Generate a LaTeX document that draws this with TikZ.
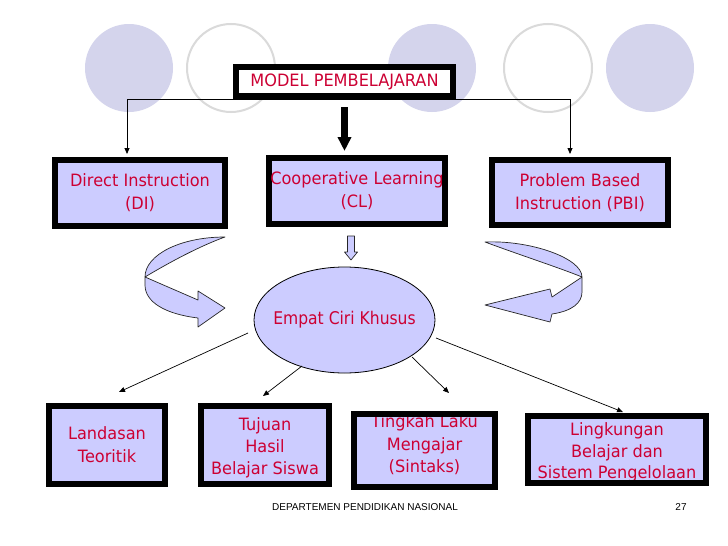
\documentclass[tikz,border=0pt]{standalone}
\usepackage{fontspec}
\setmainfont{DejaVu Sans}[FakeStretch=0.95]
\newfontfamily\narrowf{DejaVu Sans}[FakeStretch=0.89]
\newfontfamily\arialf{Liberation Sans}
\usetikzlibrary{arrows.meta,shapes.geometric}
\definecolor{lav}{RGB}{204,204,255}
\definecolor{txtred}{RGB}{204,0,51}
\definecolor{bgc}{RGB}{212,212,236}
\definecolor{bgo}{RGB}{218,218,218}
\begin{document}
\begin{tikzpicture}[x=1pt,y=-1pt,
  box/.style={draw=black,line width=6pt,fill=lav,text=txtred,align=center,inner sep=0pt,font=\fontsize{17}{23}\selectfont},
  boxfill/.style={box,draw=none,outer sep=0pt},
  boxtext/.style={text=txtred,align=center,inner sep=0pt,font=\fontsize{17}{22}\selectfont},
  boxedge/.style={draw=black,line width=6pt},
  bgfill/.style={fill=bgc,draw=none},
  bgring/.style={draw=bgo,line width=2pt,fill=white},
  conn/.style={draw=black,line width=0.8pt,-{Triangle[length=6pt,width=5pt]}},
  ray/.style={draw=black,line width=0.7pt,-{Triangle[length=6pt,width=5pt]}},
  blockarrow/.style={fill=lav,draw=black!85,line width=0.7pt,line join=round}]
\useasboundingbox (0,0) rectangle (728,546);
\fill[white] (0,0) rectangle (728,546);
% background circles
\fill[bgfill] (129,68) circle (44);
\draw[bgring] (231,68) circle (44);
\fill[bgfill] (432,68) circle (44);
\draw[bgring] (548,68) circle (44);
\fill[bgfill] (650,68) circle (44);

% top box
\node[box,fill=white,minimum width=217,minimum height=29] (top) at (344.5,81.5) {MODEL PEMBELAJARAN};
% three models
\node[box,minimum width=170,minimum height=66] (di) at (140,193) {Direct Instruction\\(DI)};
\node[box,minimum width=176,minimum height=66] (cl) at (357,191) {Cooperative Learning\\(CL)};
\node[box,minimum width=176,minimum height=65] (pbi) at (580,192.5) {Problem Based\\Instruction (PBI)};

% connectors from top
\draw[conn,shorten >=3pt] (top.south) -| ([xshift=-13pt]di.north);
\draw[conn,shorten >=3pt] (top.south) -| ([xshift=-10pt]pbi.north);
\draw[line width=7pt,-{Triangle[width=13pt,length=14pt]},shorten <=8pt,shorten >=4pt] (top.south) -- (top.south |- cl.north);

% small block arrow down
\filldraw[blockarrow] (347.5,236) -- (354.5,236) -- (354.5,252) -- (357.5,252) -- (351,260) -- (344.5,252) -- (347.5,252) -- cycle;

% curved arrows
\filldraw[blockarrow] (145,277) -- (198,300) -- (198,291) -- (225,308) -- (198,327) -- (198,318)
  .. controls (165,314) and (145,302) .. (145,285) -- (145,277)
  .. controls (145,255) and (180,237) .. (225,237)
  .. controls (200,246) and (170,262) .. (145,277) -- cycle;
\filldraw[blockarrow] (582,277) -- (552,297) -- (550,289) -- (485,305) -- (550,322) -- (552,314)
  .. controls (572,311) and (582,303) .. (582,292) -- (582,277)
  .. controls (582,258) and (530,240) .. (485,242)
  .. controls (520,255) and (560,268) .. (582,277) -- cycle;

% ellipse
\node[ellipse,draw=black,line width=0.8pt,fill=lav,minimum width=181,minimum height=106,inner sep=0pt,text=txtred,font=\narrowf\fontsize{17.5}{23}\selectfont] (ecc) at (344.5,320) {\makebox[0pt]{Empat Ciri Khusus}};

% bottom boxes
\node[box,minimum width=116,minimum height=78] (lan) at (107,445) {Landasan\\Teoritik};

\node[boxfill,minimum width=128,minimum height=78] (tuj) at (265,445) {};
\node[boxtext] (tujtext) at (265,448) {Tujuan\\Hasil\\Belajar Siswa};
\draw[boxedge] (tuj.south west) rectangle (tuj.north east);

\node[boxfill,minimum width=141,minimum height=73] (tin) at (424.5,450.5) {};
\node[boxtext,font=\fontsize{17}{22.5}\selectfont] (tintext) at (424.5,445) {Tingkah Laku\\Mengajar\\(Sintaks)};
\draw[boxedge] (tin.south west) rectangle (tin.north east);

\node[boxfill,minimum width=178,minimum height=67] (lin) at (617,449.5) {};
\node[boxtext,font=\fontsize{17}{21.5}\selectfont] (lintext) at (617,452.5) {Lingkungan\\Belajar dan\\Sistem Pengelolaan};
\draw[boxedge] (lin.south west) rectangle (lin.north east);

% rays from ellipse
\coordinate (r1s) at (248,333); \coordinate (r1e) at (119,392);
\coordinate (r2s) at (302,366); \coordinate (r2e) at (263,396);
\coordinate (r3s) at (412,357); \coordinate (r3e) at (449,393);
\coordinate (r4s) at (436,338); \coordinate (r4e) at (623,412);
\draw[ray] (r1s) -- (r1e);
\draw[ray] (r2s) -- (r2e);
\draw[ray] (r3s) -- (r3e);
\draw[ray] (r4s) -- (r4e);

% footer
\node[font=\arialf\fontsize{10}{11}\selectfont] (foot) at (365,507) {DEPARTEMEN PENDIDIKAN NASIONAL};
\node[font=\arialf\fontsize{10}{11}\selectfont] (pg) at (681,507) {27};
\end{tikzpicture}
\end{document}
